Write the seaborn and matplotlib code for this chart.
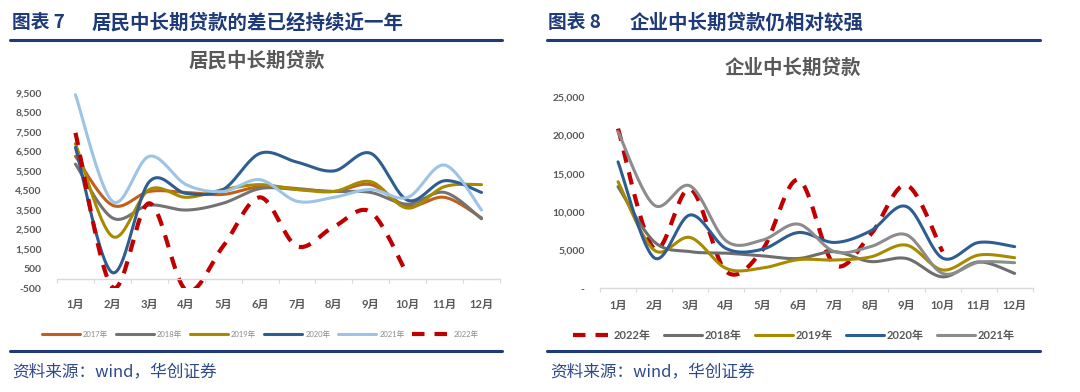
import numpy as np
import pandas as pd
import matplotlib
matplotlib.use("Agg")
import matplotlib.pyplot as plt
from matplotlib.lines import Line2D
from matplotlib.ticker import FuncFormatter, FixedLocator
import seaborn as sns

# ---------------- data ----------------
months = ["1月", "2月", "3月", "4月", "5月", "6月", "7月", "8月", "9月", "10月", "11月", "12月"]

# 居民中长期贷款 (left)
res_2017 = [6250, 3750, 4450, 4400, 4300, 4700, 4600, 4450, 4800, 3700, 4150, 3100]
res_2018 = [5850, 3100, 3750, 3500, 3850, 4600, 4550, 4450, 4400, 3800, 4400, 3050]
res_2019 = [6900, 2150, 4550, 4150, 4550, 4800, 4550, 4450, 4950, 3600, 4700, 4800]
res_2020 = [6700, 300, 4950, 4350, 4550, 6400, 5950, 5500, 6400, 4000, 5000, 4400]
res_2021 = [9400, 3950, 6250, 4800, 4450, 5050, 3950, 4150, 4550, 4150, 5800, 3500]
res_2022 = [7450, -450, 3850, -600, 1650, 4150, 1650, 2650, 3400, 150, None, None]

# 企业中长期贷款 (right)
ent_2022 = [20900, 5200, 13000, 2200, 5000, 14200, 3100, 7000, 13500, 4800, None, None]
ent_2018 = [13300, 6100, 4800, 4600, 4250, 3900, 4800, 3500, 3900, 1500, 3450, 1950]
ent_2019 = [13950, 5000, 6650, 2600, 2650, 3750, 3700, 4100, 5650, 2400, 4350, 4000]
ent_2020 = [16550, 4000, 9600, 5200, 5100, 7300, 6000, 7500, 10700, 3950, 6000, 5450]
ent_2021 = [20500, 10900, 13400, 6200, 6300, 8400, 4800, 5450, 7000, 1950, 3400, 3350]

left_labels = ["2017年", "2018年", "2019年", "2020年", "2021年", "2022年"]
right_labels = ["2022年", "2018年", "2019年", "2020年", "2021年"]

# ---------------- style ----------------
sns.set_theme(style="white")
plt.rcParams["font.family"] = ["Lato", "Noto Sans CJK SC", "DejaVu Sans"]
CJK = ["Noto Sans CJK SC", "DejaVu Sans"]
NAVY = "#1F3A78"
GREY_TXT = "#595959"


def excel_smooth(values, n=24):
    """Excel-style smoothed line (Catmull-Rom as cubic Bezier) through the data points."""
    pts = [(i, v) for i, v in enumerate(values) if v is not None]
    P = np.array(pts, dtype=float)
    xs, ys = [], []
    t = np.linspace(0, 1, n)
    for i in range(len(P) - 1):
        p0 = P[i - 1] if i > 0 else P[i]
        p1, p2 = P[i], P[i + 1]
        p3 = P[i + 2] if i + 2 < len(P) else P[i + 1]
        c1 = p1 + (p2 - p0) / 6.0
        c2 = p2 - (p3 - p1) / 6.0
        seg = ((1 - t) ** 3)[:, None] * p1 + (3 * (1 - t) ** 2 * t)[:, None] * c1 \
            + (3 * (1 - t) * t ** 2)[:, None] * c2 + (t ** 3)[:, None] * p2
        if i > 0:
            seg = seg[1:]
        xs.append(seg[:, 0])
        ys.append(seg[:, 1])
    return np.concatenate(xs), np.concatenate(ys)


def draw(ax, values, color, lw, label, dashed=False):
    x, y = excel_smooth(values)
    kw = dict(color=color, lw=lw, label=label, sort=False, estimator=None, ax=ax)
    if dashed:
        kw["dashes"] = False
        line = sns.lineplot(x=x, y=y, **kw)
        line.get_lines()[-1].set_dashes((3.0, 2.4))
        line.get_lines()[-1].set_dash_capstyle("butt")
    else:
        sns.lineplot(x=x, y=y, **kw)
    ax.get_lines()[-1].set_solid_capstyle("round")


def style_axis(ax, ylo, yhi, step, fmt, xpad):
    ax.set_xlim(-0.5, 11.5)
    ax.set_ylim(ylo, yhi)
    ax.yaxis.set_major_locator(FixedLocator(np.arange(ylo, yhi + 1, step)))
    ax.yaxis.set_major_formatter(FuncFormatter(fmt))
    for s in ["left", "top", "right"]:
        ax.spines[s].set_visible(False)
    ax.spines["bottom"].set_position(("data", 0))
    ax.spines["bottom"].set_color("#D9D9D9")
    ax.spines["bottom"].set_linewidth(1.0)
    ax.xaxis.set_major_locator(FixedLocator(np.arange(-0.5, 12, 1)))
    ax.xaxis.set_major_formatter(FuncFormatter(lambda v, p: ""))
    ax.xaxis.set_minor_locator(FixedLocator(np.arange(0, 12)))
    ax.set_xticks(np.arange(0, 12), labels=months, minor=True)
    ax.tick_params(axis="x", which="major", length=3, width=0.8, color="#D9D9D9", direction="out", bottom=True)
    ax.tick_params(axis="x", which="minor", length=0, pad=xpad, labelsize=8, labelcolor=GREY_TXT)
    ax.tick_params(axis="y", length=0, pad=11, labelsize=7.5, labelcolor=GREY_TXT)
    for lab in ax.get_xticklabels(minor=True) + ax.get_yticklabels():
        lab.set_fontweight("bold")
    ax.set_xlabel("")
    ax.set_ylabel("")
    ax.grid(False)
    ax.set_facecolor("none")


fig = plt.figure(figsize=(10.8, 3.92), dpi=100)
fig.patch.set_facecolor("white")

# ---------------- left chart ----------------
axL = fig.add_axes([57 / 1080, 1 - 288.3 / 392, 443 / 1080, (288.3 - 92.7) / 392])
draw(axL, res_2017, "#C0601C", 2.2, "2017年")
draw(axL, res_2018, "#737373", 2.2, "2018年")
draw(axL, res_2019, "#A88A00", 2.2, "2019年")
draw(axL, res_2020, "#2E5E91", 2.2, "2020年")
draw(axL, res_2021, "#9DC3E6", 2.2, "2021年")
draw(axL, res_2022, "#C00000", 3.0, "2022年", dashed=True)
style_axis(axL, -500, 9500, 1000, lambda v, p: f"{int(v):,}", 14.5)

h, l = axL.get_legend_handles_labels()
axL.legend(h, left_labels, loc="center", bbox_to_anchor=(260 / 1080, 1 - 334 / 392),
           bbox_transform=fig.transFigure, ncol=6, frameon=False,
           prop={"size": 5.5, "family": ["Lato", "Noto Sans CJK SC"]}, labelcolor="#8C8C8C",
           handlelength=5.0, handletextpad=0.4, columnspacing=1.0)

# ---------------- right chart ----------------
axR = fig.add_axes([600 / 1080, 1 - 288.3 / 392, 432.7 / 1080, (288.3 - 97.3) / 392])
draw(axR, ent_2022, "#C00000", 3.0, "2022年", dashed=True)
draw(axR, ent_2018, "#6E6E6E", 2.2, "2018年")
draw(axR, ent_2019, "#A88A00", 2.2, "2019年")
draw(axR, ent_2020, "#2E5E91", 2.2, "2020年")
draw(axR, ent_2021, "#8C8C8C", 2.2, "2021年")
style_axis(axR, 0, 25000, 5000, lambda v, p: "-" if v == 0 else f"{int(v):,}", 8.3)

h, l = axR.get_legend_handles_labels()
axR.legend(h, right_labels, loc="center", bbox_to_anchor=(794 / 1080, 1 - 335 / 392),
           bbox_transform=fig.transFigure, ncol=5, frameon=False,
           prop={"size": 8, "weight": "bold", "family": ["Lato", "Noto Sans CJK SC"]}, labelcolor=GREY_TXT,
           handlelength=3.4, handletextpad=0.25, columnspacing=1.2)

# ---------------- headers / footers ----------------
def hline(x0, x1, y, lw):
    fig.add_artist(Line2D([x0 / 1080, x1 / 1080], [1 - y / 392, 1 - y / 392],
                          transform=fig.transFigure, color=NAVY, lw=lw))

hline(10, 502, 40, 2.2)
hline(547, 1040, 40, 2.2)
hline(10, 502, 351, 2.2)
hline(547, 1040, 351, 2.2)

fig.text(12 / 1080, 1 - 23 / 392, "图表 7", family=CJK, fontsize=13.5, weight="bold", color=NAVY, va="center")
fig.text(92 / 1080, 1 - 23 / 392, "居民中长期贷款的差已经持续近一年", family=CJK, fontsize=14,
         weight="bold", color=NAVY, va="center")
fig.text(548 / 1080, 1 - 23 / 392, "图表 8", family=CJK, fontsize=13.5, weight="bold", color=NAVY, va="center")
fig.text(630 / 1080, 1 - 23 / 392, "企业中长期贷款仍相对较强", family=CJK, fontsize=14,
         weight="bold", color=NAVY, va="center")

fig.text(257 / 1080, 1 - 61 / 392, "居民中长期贷款", family=CJK, fontsize=14, weight="bold",
         color=GREY_TXT, ha="center", va="center")
fig.text(793 / 1080, 1 - 68 / 392, "企业中长期贷款", family=CJK, fontsize=14, weight="bold",
         color=GREY_TXT, ha="center", va="center")

fig.text(12 / 1080, 1 - 372 / 392, "资料来源：wind，华创证券", family=CJK, fontsize=12,
         style="italic", color="#2E4A8A", va="center")
fig.text(550 / 1080, 1 - 372 / 392, "资料来源：wind，华创证券", family=CJK, fontsize=12,
         style="italic", color="#2E4A8A", va="center")

fig.savefig("out.png", dpi=100, facecolor="white")
